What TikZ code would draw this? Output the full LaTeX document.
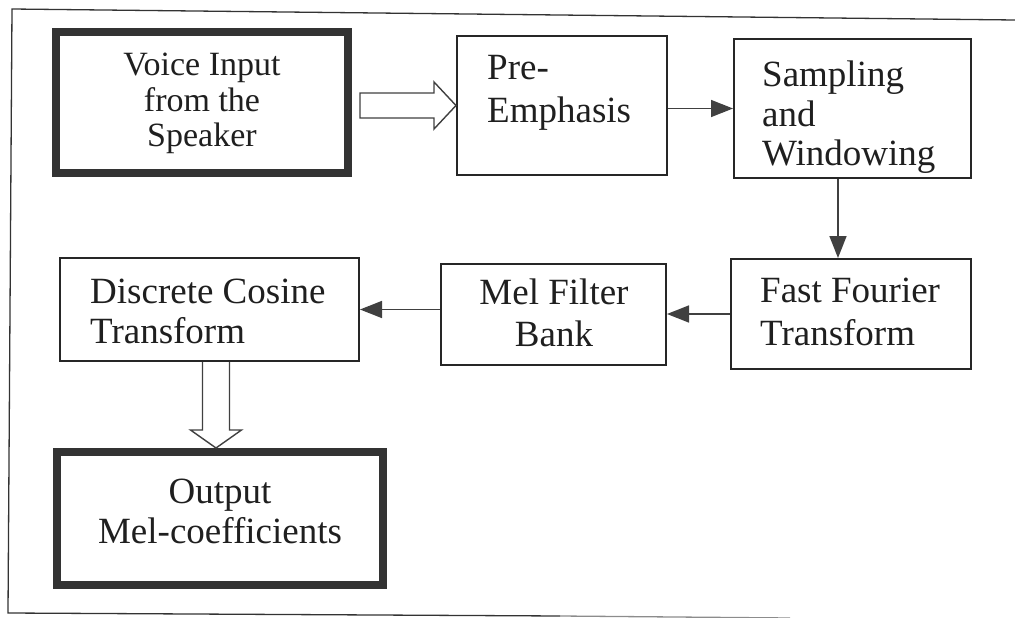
\documentclass[tikz,border=0pt]{standalone}
\usepackage{fontspec}
\setmainfont{Liberation Serif}
\usetikzlibrary{arrows.meta,calc}
\begin{document}
\begin{tikzpicture}[x=1pt,y=-1pt,
  box/.style={draw=black!85,line width=2pt,inner sep=0pt,rectangle},
  thickbox/.style={draw=black!80,line width=8pt,inner sep=0pt,rectangle},
  txt/.style={inner sep=0pt,text=black!88,font=\fontsize{37}{42}\selectfont},
  txtsmall/.style={inner sep=0pt,text=black!88,font=\fontsize{34}{36}\selectfont},
  arr/.style={draw=black!75,line width=1.6pt,-{Triangle[length=22pt,width=17pt]}},
  hollow/.style={draw=black!75,line width=1.4pt,fill=white,line join=miter},
  frame/.style={draw=black!80,line width=1.3pt}]
\useasboundingbox (0,0) rectangle (1015,618);
% frame
\coordinate (f1) at (12,9);
\coordinate (f2) at (1015,20);
\coordinate (f3) at (8,613);
\coordinate (f4) at (560,616);
\coordinate (f5) at (790,618);
\draw[frame] (f2) -- (f1) -- (f3) -- (f4);
\draw[draw=black!45,line width=1.3pt] (f4) -- (f5);
% boxes
\node[thickbox,minimum width=292pt,minimum height=141pt] (vo) at (202,102.5) {};
\node[box,minimum width=210pt,minimum height=139pt] (pre) at (562,105.5) {};
\node[box,minimum width=237pt,minimum height=139pt] (samp) at (852.5,108.5) {};
\node[box,minimum width=240pt,minimum height=110pt] (fft) at (851,314) {};
\node[box,minimum width=225pt,minimum height=101pt] (mel) at (553.5,314.5) {};
\node[box,minimum width=299pt,minimum height=103pt] (dct) at (209.5,309.5) {};
\node[thickbox,minimum width=326pt,minimum height=133pt] (out) at (220,518.5) {};
% texts
\node[txtsmall,anchor=base] (vo1) at (202,76) {Voice Input};
\node[txtsmall,anchor=base] (vo2) at (202,111) {from the};
\node[txtsmall,anchor=base] (vo3) at (202,146) {Speaker};
\node[txt,anchor=base west] (pre1) at (487,80) {Pre-};
\node[txt,anchor=base west] (pre2) at (487,122) {Emphasis};
\node[txt,anchor=base west] (sa1) at (762,87) {Sampling};
\node[txt,anchor=base west] (sa2) at (762,126) {and};
\node[txt,anchor=base west] (sa3) at (762,165) {Windowing};
\node[txt,anchor=base west] (ff1) at (760,302) {Fast Fourier};
\node[txt,anchor=base west] (ff2) at (760,345) {Transform};
\node[txt,anchor=base] (me1) at (554,304) {Mel Filter};
\node[txt,anchor=base] (me2) at (554,346) {Bank};
\node[txt,anchor=base west] (dc1) at (90,303) {Discrete Cosine};
\node[txt,anchor=base west] (dc2) at (90,343) {Transform};
\node[txt,anchor=base] (ou1) at (220,503) {Output};
\node[txt,anchor=base] (ou2) at (220,543) {Mel-coefficients};
% hollow arrow voice -> pre
\coordinate (h1s) at ($(vo.east)+(8,0)$);
\coordinate (h1a) at (h1s |- pre.west);
\draw[hollow] ($(h1a)+(0,-12.5)$) -- ($(pre.west)+(-22,-12.5)$) -- ($(pre.west)+(-22,-23.5)$)
  -- (pre.west) -- ($(pre.west)+(-22,23.5)$) -- ($(pre.west)+(-22,12.5)$) -- ($(h1a)+(0,12.5)$) -- cycle;
% hollow arrow dct -> out
\coordinate (h2x) at (216,0);
\coordinate (h2s) at (h2x |- dct.south);
\coordinate (h2t) at (h2x |- out.north);
\draw[hollow] ($(h2s)+(-13.5,0)$) -- ($(h2t)+(-13.5,-18)$) -- ($(h2t)+(-25.5,-18)$) -- (h2t)
  -- ($(h2t)+(25.5,-18)$) -- ($(h2t)+(13.5,-18)$) -- ($(h2s)+(13.5,0)$);
% solid arrows
\draw[arr] (pre.east |- samp.west) -- (samp.west);
\coordinate (dx) at (838,0);
\draw[arr] (dx |- samp.south) -- (dx |- fft.north);
\draw[arr] (fft.west) -- (fft.west -| mel.east);
\draw[arr] (mel.west |- dct.east) -- (dct.east);
\end{tikzpicture}
\end{document}
